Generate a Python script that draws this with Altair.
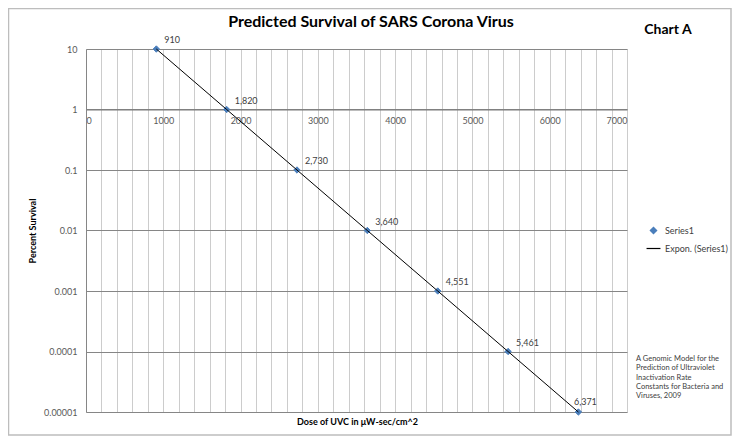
import altair as alt
import pandas as pd

# data
dose = [910, 1820, 2730, 3640, 4551, 5461, 6371]
survival = [10, 1, 0.1, 0.01, 0.001, 0.0001, 0.00001]
series_names = ["Series1", "Expon. (Series1)"]
x_label_ticks = [0, 1000, 2000, 3000, 4000, 5000, 6000, 7000]
x_grid_ticks = [0, 200, 400, 600, 800, 1000, 1200, 1400, 1600, 1800, 2000, 2200, 2400,
                2600, 2800, 3000, 3200, 3400, 3600, 3800, 4000, 4200, 4400, 4600, 4800,
                5000, 5200, 5400, 5600, 5800, 6000, 6200, 6400, 6600, 6800, 7000]
y_ticks = [10, 1, 0.1, 0.01, 0.001, 0.0001, 0.00001]
note_lines = ["A Genomic Model for the", "Prediction of Ultraviolet", "Inactivation Rate",
              "Constants for Bacteria and", "Viruses, 2009"]

df = pd.DataFrame({"dose": dose, "survival": survival, "series": series_names[0]})

W, H = 541, 363
FONT = "Lato"
GRID = "#868686"
LIGHT = "#cccccc"

xs = alt.Scale(domain=[0, 7000], nice=False, zero=False)
ys = alt.Scale(type="log", domain=[0.00001, 10], nice=False)

# one shared y axis definition, used by every layer so the merge keeps it
y_axis = alt.Axis(
    values=y_ticks, format="~f", grid=True, gridColor=GRID, gridWidth=1,
    domainColor=GRID, ticks=False, labelPadding=9, labelFont=FONT, labelFontSize=9,
    labelColor="#595959", title="Percent Survival", titleFont=FONT, titleFontSize=9,
    titleFontWeight="bold", titleColor="black", titleX=-54, titleY=H / 2,
    titleAngle=-90, titleAlign="center", titleBaseline="middle")
y_enc = alt.Y("survival:Q", scale=ys, axis=y_axis)

leg = alt.Legend(title=None, orient="none", legendX=563, legendY=177, padding=0,
                 labelFont=FONT, labelFontSize=9, labelColor="#404040",
                 labelOffset=7, rowPadding=7, symbolSize=40, symbolStrokeWidth=1.2)

# frame around the whole chart
frame = alt.Chart(alt.Data(values=[{}])).mark_rect(
    fill=None, stroke="#bdbdbd", strokeWidth=1.5
).encode(x=alt.value(-77.5), x2=alt.value(W + 104), y=alt.value(-40.5), y2=alt.value(H + 23))

base = alt.Chart(df)

# points carry the vertical grid
points = base.mark_point(filled=True, strokeWidth=1, opacity=1, size=40).encode(
    x=alt.X("dose:Q", scale=xs, axis=alt.Axis(
        orient="top", values=x_grid_ticks, grid=True, gridColor=LIGHT, gridWidth=1,
        labels=False, ticks=False, domain=False, title=None)),
    y=y_enc,
    color=alt.Color("series:N", scale=alt.Scale(domain=series_names, range=["#4A7EBB", "black"]), legend=leg),
    stroke=alt.Stroke("series:N", scale=alt.Scale(domain=series_names, range=["#4A7EBB", "black"]), legend=leg),
    shape=alt.Shape("series:N", scale=alt.Scale(domain=series_names, range=["diamond", "M-2.2,0H2.2"]), legend=leg),
)

# exponential trend line, carries the x axis crossing at y = 1
trend = base.mark_line(color="black", strokeWidth=1).encode(
    x=alt.X("dose:Q", scale=xs, axis=alt.Axis(
        orient="bottom", offset=-(H - H / 6), values=x_label_ticks, format="d",
        grid=False, ticks=False, domainColor="#7a7a7a", labelPadding=7,
        labelFont=FONT, labelFontSize=9, labelColor="#595959",
        title="Dose of UVC in μW-sec/cm^2", titleFont=FONT, titleFontSize=9,
        titleFontWeight="bold", titleColor="black", titleX=271, titleY=H - H / 6 + 9,
        titleAlign="center", titleBaseline="middle")),
    y=y_enc,
)

label_enc = dict(
    x=alt.X("dose:Q", scale=xs, axis=None),
    y=y_enc,
    text=alt.Text("dose:Q", format=","),
)
labels = base.mark_text(align="left", baseline="middle", dx=8, dy=-9, font=FONT,
                        fontSize=9, color="#404040").encode(**label_enc).transform_filter(
    alt.datum.dose < 6000)
last_label = base.mark_text(align="center", baseline="middle", dx=7, dy=-10, font=FONT,
                            fontSize=9, color="#404040").encode(**label_enc).transform_filter(
    alt.datum.dose > 6000)

title = alt.Chart(alt.Data(values=[{}])).mark_text(
    text="Predicted Survival of SARS Corona Virus", font=FONT, fontSize=16,
    fontWeight="bold", color="black", align="center", baseline="middle"
).encode(x=alt.value(285), y=alt.value(-27))

chart_tag = alt.Chart(alt.Data(values=[{}])).mark_text(
    text="Chart A", font=FONT, fontSize=14, fontWeight="bold", color="black",
    align="center", baseline="middle"
).encode(x=alt.value(582), y=alt.value(-19))

note = alt.Chart(alt.Data(values=[{}])).mark_text(
    text=note_lines, font=FONT, fontSize=7.5, color="#404040", lineHeight=9.3,
    align="left", baseline="top"
).encode(x=alt.value(550), y=alt.value(306))

chart = alt.layer(frame, points, trend, labels, last_label, title, chart_tag, note).resolve_axis(
    x="independent"
).properties(
    width=W, height=H,
    autosize=alt.AutoSizeParams(type="none"),
    padding={"left": 78, "top": 41, "right": 105, "bottom": 24},
).configure_view(stroke=None).configure(background="white")

chart.save("out.html", embed_options={"renderer": "svg", "actions": False})
